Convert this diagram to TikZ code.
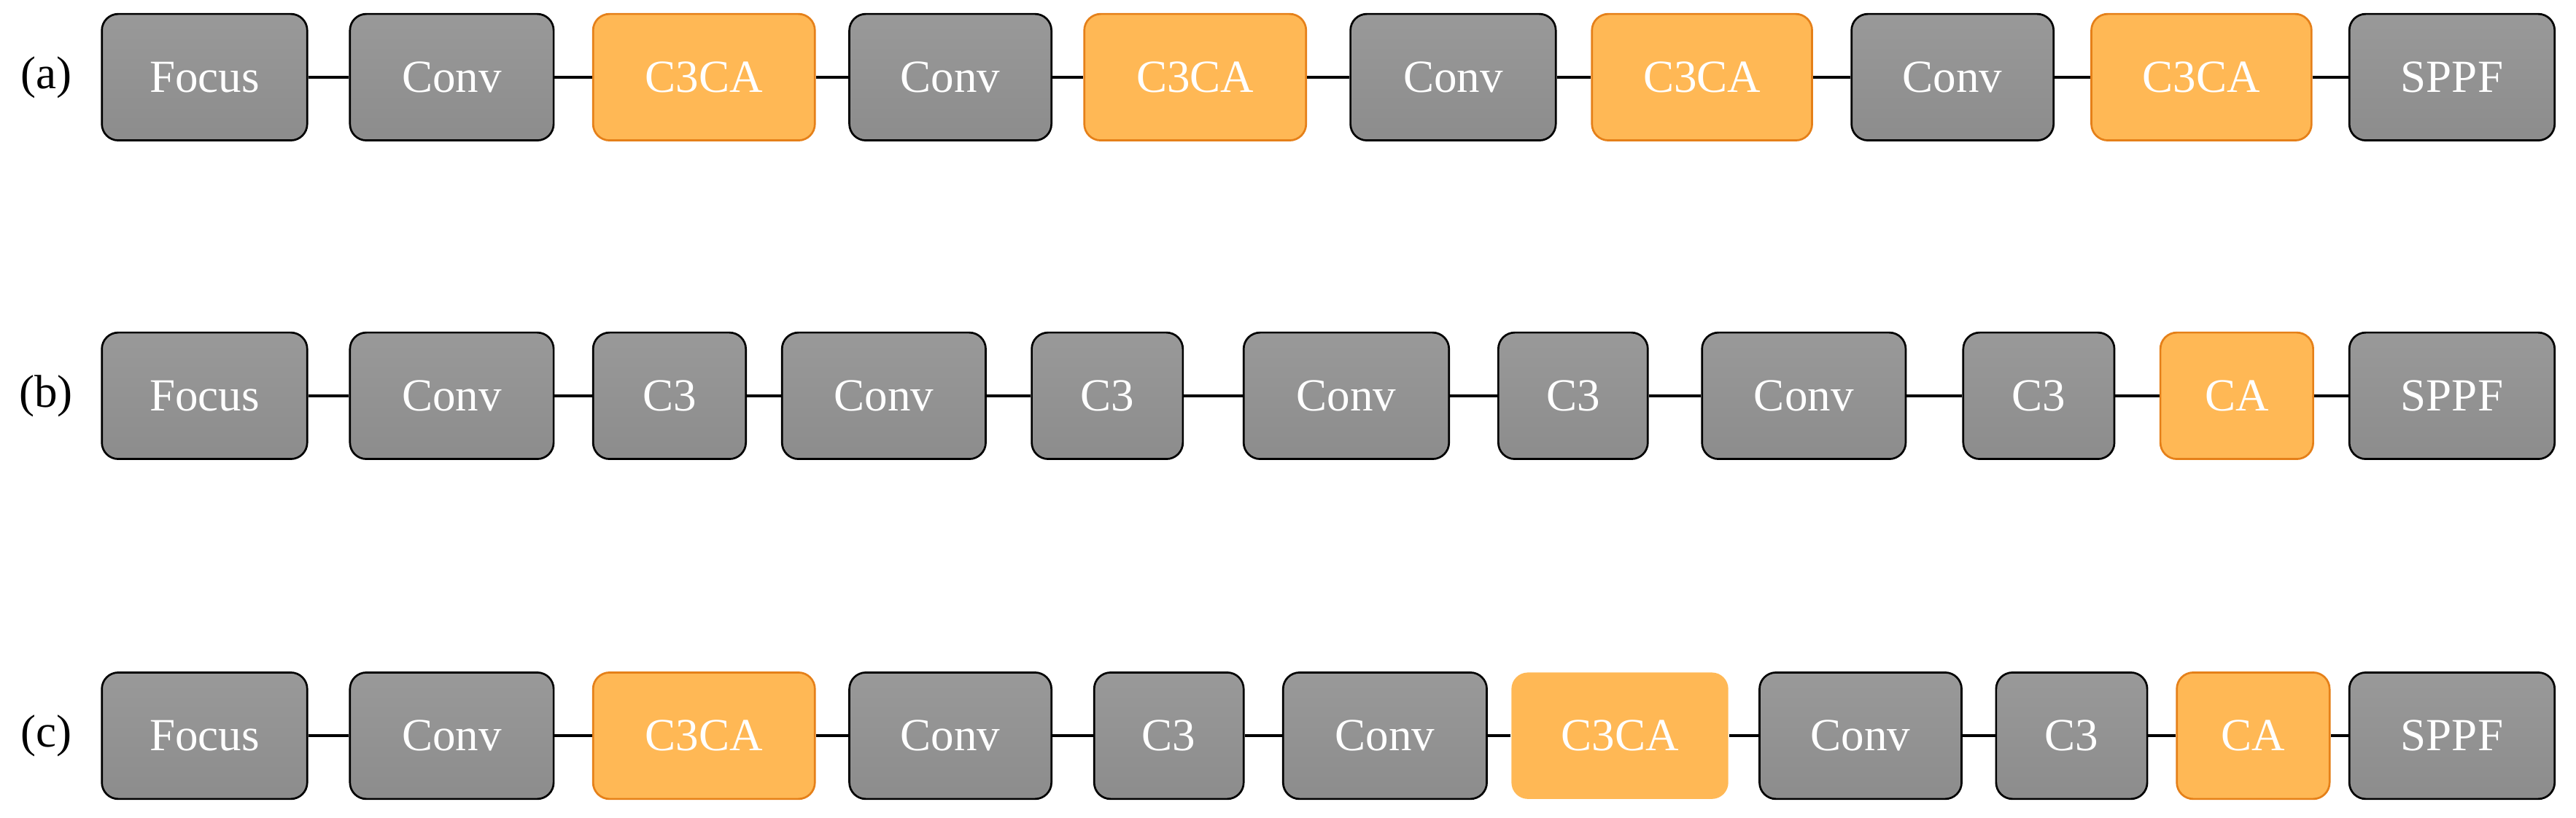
\documentclass[tikz,border=0pt]{standalone}
\usepackage{fontspec}
\setmainfont{Liberation Serif}
\begin{document}
\begin{tikzpicture}[x=0.5pt,y=-0.5pt,
  box/.style={rounded corners=5pt,minimum height=38.5pt,inner sep=0pt,font=\fontsize{14}{16}\selectfont,text=white,line width=0.6pt},
  g/.style={box,draw=black,top color=gray!80!white,bottom color=gray!110!black,middle color=gray!85!white},
  o/.style={box,draw=orange!60!brown,fill={rgb,255:red,255;green,184;blue,85}},
  on/.style={box,fill={rgb,255:red,255;green,184;blue,85}},
  lab/.style={font=\fontsize{14}{16}\selectfont},
  ln/.style={line width=0.8pt}]
\useasboundingbox (0,0) rectangle (1568,498);
\newcommand\bx[6]{\node[#1,minimum width={(#4-#3)*0.5pt}] (#2) at ({(#3+#4)/2},#5) {#6};}
% row a
\node[lab] (la) at (28,47) {(a)};
\bx{g}{a1}{62}{187}{47}{Focus}
\bx{g}{a2}{213}{337}{47}{Conv}
\bx{o}{a3}{361}{496}{47}{C3CA}
\bx{g}{a4}{517}{640}{47}{Conv}
\bx{o}{a5}{660}{795}{47}{C3CA}
\bx{g}{a6}{822}{947}{47}{Conv}
\bx{o}{a7}{969}{1103}{47}{C3CA}
\bx{g}{a8}{1127}{1250}{47}{Conv}
\bx{o}{a9}{1273}{1407}{47}{C3CA}
\bx{g}{a10}{1430}{1555}{47}{SPPF}
\foreach \i [count=\j from 2] in {1,...,9}{\draw[ln] (a\i.east)--(a\j.west);}
% row b
\node[lab] (lb) at (28,241) {(b)};
\bx{g}{b1}{62}{187}{241}{Focus}
\bx{g}{b2}{213}{337}{241}{Conv}
\bx{g}{b3}{361}{454}{241}{C3}
\bx{g}{b4}{476}{600}{241}{Conv}
\bx{g}{b5}{628}{720}{241}{C3}
\bx{g}{b6}{757}{882}{241}{Conv}
\bx{g}{b7}{912}{1003}{241}{C3}
\bx{g}{b8}{1036}{1160}{241}{Conv}
\bx{g}{b9}{1195}{1287}{241}{C3}
\bx{o}{b10}{1315}{1408}{241}{CA}
\bx{g}{b11}{1430}{1555}{241}{SPPF}
\foreach \i [count=\j from 2] in {1,...,10}{\draw[ln] (b\i.east)--(b\j.west);}
% row c
\node[lab] (lc) at (28,448) {(c)};
\bx{g}{c1}{62}{187}{448}{Focus}
\bx{g}{c2}{213}{337}{448}{Conv}
\bx{o}{c3}{361}{496}{448}{C3CA}
\bx{g}{c4}{517}{640}{448}{Conv}
\bx{g}{c5}{666}{757}{448}{C3}
\bx{g}{c6}{781}{905}{448}{Conv}
\bx{on}{c7}{920}{1052}{448}{C3CA}
\bx{g}{c8}{1071}{1194}{448}{Conv}
\bx{g}{c9}{1215}{1307}{448}{C3}
\bx{o}{c10}{1325}{1418}{448}{CA}
\bx{g}{c11}{1430}{1555}{448}{SPPF}
\foreach \i [count=\j from 2] in {1,...,10}{\draw[ln] (c\i.east)--(c\j.west);}
\end{tikzpicture}
\end{document}
